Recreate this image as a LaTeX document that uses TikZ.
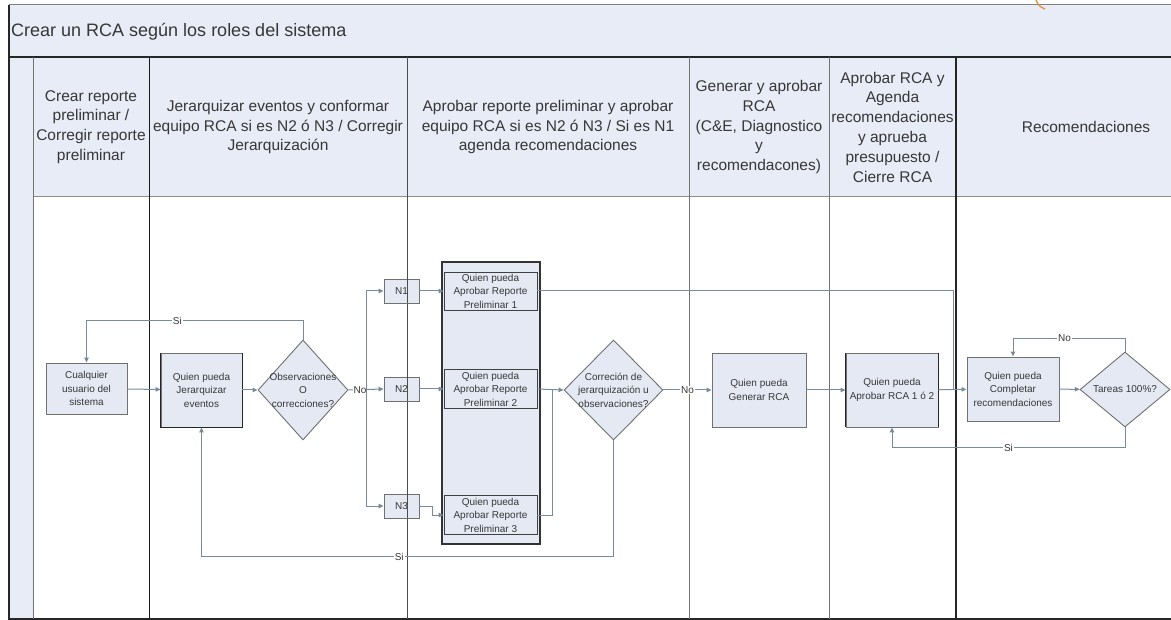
\documentclass[tikz,border=0pt]{standalone}
\usepackage{fontspec}
\setmainfont{Liberation Sans}
\usetikzlibrary{shapes.geometric,arrows.meta}
\pgfdeclarelayer{bg}
\pgfsetlayers{bg,main}
\definecolor{lanefill}{RGB}{232,236,247}
\definecolor{boxfill}{RGB}{228,233,244}
\definecolor{flowc}{RGB}{118,140,155}
\definecolor{edgec}{RGB}{112,112,112}
\definecolor{inkc}{RGB}{55,55,55}
\definecolor{orangec}{RGB}{228,150,62}
\begin{document}
\begin{tikzpicture}[x=1pt, y=-1pt, >={Triangle[length=5pt,width=4.5pt]},
        proc/.style={draw=edgec, fill=boxfill, line width=0.9pt, inner sep=0pt, align=center, text=inkc, font=\fontsize{10}{13.5}\selectfont},
        sub/.style={proc, draw=black!75},
        dec/.style={diamond, draw=edgec, fill=boxfill, line width=0.9pt, inner sep=0pt},
        dectxt/.style={align=center, text=inkc, font=\fontsize{10}{13.5}\selectfont, inner sep=0pt},
        flow/.style={draw=flowc, line width=1pt, ->},
        conn/.style={draw=flowc, line width=1pt},
        lbl/.style={fill=white, inner sep=1pt, text=inkc, font=\fontsize{10}{12}\selectfont},
        hdr/.style={align=center, inner sep=0pt, text=inkc, font=\fontsize{15.5}{19.8}\selectfont},
        colline/.style={line width=1pt, draw=black!55},
        darkline/.style={line width=1.6pt, draw=black!85}]
    \useasboundingbox (0,0) rectangle (1171,620);

    % lanes
    \begin{pgfonlayer}{bg}
        \fill[white] (0,0) rectangle (1171,620);
        \fill[lanefill] (9,5) rectangle (1171,197);
        \fill[lanefill] (9,197) rectangle (33,619);
        \draw[black!50, line width=1pt] (9,5) -- (1171,5);
        \draw[darkline] (9,57) -- (1171,57);
        \draw[black!45, line width=1pt] (33,197) -- (1171,197);
        \draw[darkline] (9,5) -- (9,619) -- (1171,619);
        \draw[colline] (33,57) -- (33,619);
        \draw[colline, draw=black!90] (149,57) -- (149,619);
        \draw[colline, draw=black!70] (407,57) -- (407,619);
        \draw[colline] (689,57) -- (689,619);
        \draw[colline] (829,57) -- (829,619);
        \draw[darkline] (956,57) -- (956,619);
        \draw[orangec, line width=1.4pt] (1036,0) to[bend right=25] (1045,9);
    \end{pgfonlayer}

    \node[anchor=west, inner sep=0pt, text=inkc, font=\fontsize{18}{22}\selectfont] (title) at (11,32) {Crear un RCA según los roles del sistema};

    \node[hdr] (hCrear) at (91,127) {Crear reporte\\preliminar /\\Corregir reporte\\preliminar};
    \node[hdr] (hJer) at (278,127) {Jerarquizar eventos y conformar\\equipo RCA si es N2 ó N3 / Corregir\\Jerarquización};
    \node[hdr] (hAprob) at (548,127) {Aprobar reporte preliminar y aprobar\\equipo RCA si es N2 ó N3 / Si es N1\\agenda recomendaciones};
    \node[hdr] (hGen) at (759,127) {Generar y aprobar\\RCA\\(C\&E, Diagnostico\\y\\recomendacones)};
    \node[hdr] (hCierre) at (892.5,127) {Aprobar RCA y\\Agenda\\recomendaciones\\y aprueba\\presupuesto /\\Cierre RCA};
    \node[hdr] (hRec) at (1086,127) {Recomendaciones};

    % steps
    \node[proc, minimum width=81pt, minimum height=51pt] (user) at (86.5,388.5) {Cualquier\\usuario del\\sistema};
    \node[proc, minimum width=81pt, minimum height=74pt] (jer) at (201.5,390) {Quien pueda\\Jerarquizar\\eventos};
    \node[dec, minimum width=90pt, minimum height=100pt,
          label={[dectxt]center:{Observaciones\\O\\correcciones?}}] (obs) at (303,390) {};
    \node[proc, minimum width=35pt, minimum height=24pt] (N1) at (401.5,291) {N1};
    \node[proc, minimum width=35pt, minimum height=24pt] (N2) at (401.5,389) {N2};
    \node[proc, minimum width=35pt, minimum height=24pt] (N3) at (401.5,506) {N3};
    \draw[colline, draw=black!70] (407,279) -- (407,303) (407,377) -- (407,401) (407,494) -- (407,518);

    \node[proc, draw=black!80, line width=1.2pt, minimum width=98pt, minimum height=282pt] (grp) at (491,403) {};
    \node[sub, minimum width=93pt, minimum height=38pt] (RP1) at (490.5,291) {Quien pueda\\Aprobar Reporte\\Preliminar 1};
    \node[sub, minimum width=93pt, minimum height=39pt] (RP2) at (490.5,389) {Quien pueda\\Aprobar Reporte\\Preliminar 2};
    \node[sub, minimum width=93pt, minimum height=39pt] (RP3) at (490.5,515) {Quien pueda\\Aprobar Reporte\\Preliminar 3};

    \node[dec, minimum width=99pt, minimum height=100pt,
          label={[dectxt]center:{Correción de\\jerarquización u\\observaciones?}}] (corr) at (613.5,390) {};
    \node[proc, minimum width=94pt, minimum height=74pt] (gen) at (759,390) {Quien pueda\\Generar RCA};
    \node[proc, minimum width=92pt, minimum height=74pt] (apr) at (892,390) {Quien pueda\\Aprobar RCA 1 ó 2};
    \node[proc, minimum width=92pt, minimum height=64pt] (comp) at (1013,389) {Quien pueda\\Completar\\recomendaciones};
    \node[dec, minimum width=90pt, minimum height=75pt,
          label={[dectxt]center:{Tareas 100\%?}}] (tar) at (1125,389.5) {};

    \draw[black!85, line width=1.4pt] (jer.north west) -- (jer.south west) -- (jer.south east) -- (jer.north east);
    \draw[black!85, line width=1.4pt] (apr.north west) -- (apr.south west) (apr.north east) -- (apr.south east);

    \coordinate (split) at (366,389);
    \coordinate (merge) at (552,389);
    \coordinate (join) at (953,389);

    % connectors
    \draw[flow] (user) -- (jer);
    \draw[flow] (jer) -- (obs);
    \draw[flow] (obs.north) -- ++(0,-19) -| node[lbl, pos=0.29] {Si} (user.north);
    \draw[flow] (obs.east) -- node[lbl, pos=0.33] {No} (N2.west);
    \draw[flow] (split) |- (N1.west);
    \draw[flow] (split) |- (N3.west);
    \draw[flow] (N1) -- (RP1);
    \draw[flow] (N2) -- (RP2);
    \draw[flow] (N3.east) -- ++(13,0) |- (RP3.west);
    \draw[conn] (RP1.east) -| (join);
    \draw[flow] (RP2.east) -- (corr.west);
    \draw[conn] (RP3.east) -| (merge);
    \draw[flow] (corr.east) -- node[lbl] {No} (gen.west);
    \draw[flow] (corr.south) -- ++(0,116) -| node[lbl, pos=0.26] {Si} (jer.south);
    \draw[flow] (gen) -- (apr);
    \draw[flow] (apr) -- (comp);
    \draw[flow] (comp) -- (tar);
    \draw[flow] (tar.north) -- ++(0,-13) -| node[lbl, pos=0.27] {No} (comp.north);
    \draw[flow] (tar.south) -- ++(0,20) -| node[lbl, pos=0.25] {Si} (apr.south);
\end{tikzpicture}
\end{document}
